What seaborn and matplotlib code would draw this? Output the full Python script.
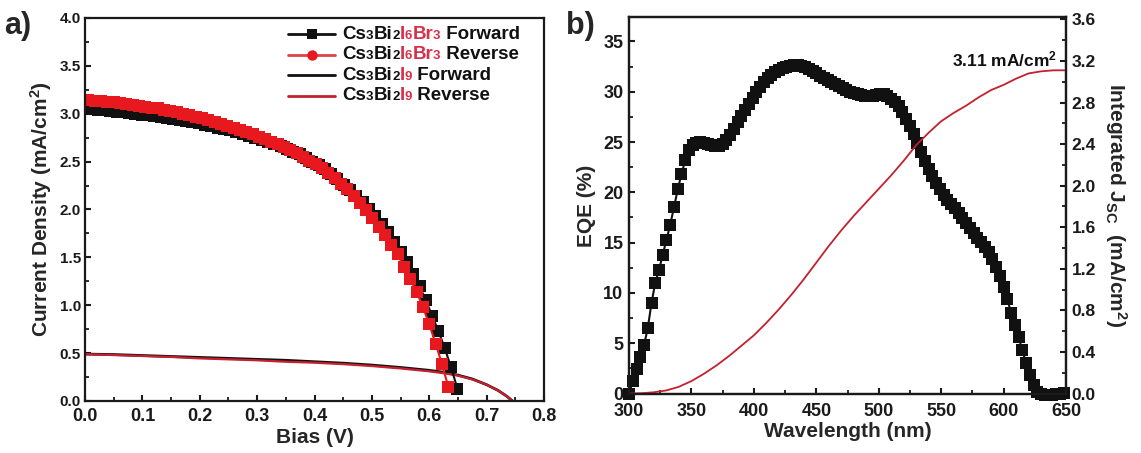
import numpy as np
import matplotlib
matplotlib.use("Agg")
import matplotlib.pyplot as plt
import seaborn as sns
from matplotlib.ticker import MultipleLocator, FormatStrFormatter
from matplotlib.offsetbox import TextArea, HPacker, VPacker, AnchoredOffsetbox, DrawingArea
from matplotlib.lines import Line2D

# ---------------- data ----------------
# J-V sweeps of Cs3Bi2I6Br3 (square markers), bias step 0.011 V
bias_step = 0.011
bias_fwd = np.round(np.arange(60) * bias_step, 3)
j_fwd = [3.05, 3.045, 3.04, 3.035, 3.03, 3.02, 3.015, 3.01, 3.00, 2.99,
         2.985, 2.975, 2.965, 2.955, 2.945, 2.935, 2.92, 2.91, 2.90, 2.885,
         2.87, 2.855, 2.84, 2.825, 2.81, 2.79, 2.77, 2.75, 2.73, 2.71,
         2.685, 2.66, 2.635, 2.605, 2.575, 2.54, 2.50, 2.46, 2.42, 2.37,
         2.32, 2.26, 2.20, 2.14, 2.08, 2.01, 1.93, 1.85, 1.76, 1.66,
         1.56, 1.45, 1.33, 1.20, 1.05, 0.89, 0.73, 0.55, 0.35, 0.13]

bias_rev = np.round(0.006 + np.arange(58) * bias_step, 3)
j_rev = [3.14, 3.135, 3.13, 3.125, 3.12, 3.11, 3.105, 3.095, 3.085, 3.075,
         3.065, 3.055, 3.04, 3.03, 3.015, 3.00, 2.985, 2.97, 2.955, 2.935,
         2.915, 2.895, 2.875, 2.855, 2.83, 2.81, 2.785, 2.76, 2.735, 2.71,
         2.68, 2.65, 2.62, 2.585, 2.55, 2.51, 2.47, 2.43, 2.38, 2.33,
         2.27, 2.21, 2.14, 2.07, 1.99, 1.91, 1.82, 1.73, 1.63, 1.53,
         1.40, 1.27, 1.14, 0.98, 0.80, 0.60, 0.39, 0.15]

# J-V sweeps of Cs3Bi2I9 (thin lines)
bias_i9 = [0.00, 0.05, 0.10, 0.15, 0.20, 0.25, 0.30, 0.35, 0.40, 0.45,
           0.50, 0.55, 0.60, 0.625, 0.65, 0.675, 0.70, 0.72, 0.735, 0.745]
j_i9_fwd = [0.49, 0.485, 0.475, 0.465, 0.455, 0.445, 0.435, 0.425, 0.41, 0.395,
            0.375, 0.35, 0.32, 0.30, 0.27, 0.23, 0.17, 0.11, 0.05, 0.0]
j_i9_rev = [0.49, 0.48, 0.47, 0.46, 0.445, 0.435, 0.425, 0.41, 0.40, 0.385,
            0.365, 0.34, 0.31, 0.29, 0.265, 0.225, 0.17, 0.11, 0.05, 0.0]

# EQE spectrum (3 nm step)
wavelength = np.arange(300, 649, 3)
eqe = [0.0, 1.2, 2.4, 3.6, 4.8, 6.5, 9.0, 11.0, 12.3, 13.8,
       15.3, 16.8, 18.5, 20.3, 21.8, 23.2, 24.2, 24.7, 24.9, 25.0,
       24.9, 24.8, 24.7, 24.6, 24.6, 24.8, 25.2, 25.7, 26.3, 27.0,
       27.6, 28.2, 28.8, 29.4, 30.0, 30.5, 31.0, 31.4, 31.7, 32.0,
       32.2, 32.4, 32.5, 32.6, 32.7, 32.7, 32.6, 32.5, 32.3, 32.1,
       31.9, 31.6, 31.4, 31.2, 31.0, 30.8, 30.6, 30.4, 30.2, 30.0,
       29.9, 29.8, 29.7, 29.6, 29.6, 29.6, 29.7, 29.8, 29.8, 29.6,
       29.3, 29.0, 28.6, 28.0, 27.3, 26.6, 25.8, 24.9, 24.0, 23.1,
       22.3, 21.6, 20.9, 20.3, 19.7, 19.2, 18.8, 18.4, 17.9, 17.4,
       17.0, 16.5, 16.0, 15.5, 15.1, 14.6, 14.1, 13.4, 12.6, 11.7,
       10.6, 9.4, 8.0, 6.8, 5.6, 4.3, 3.0, 1.8, 0.8, 0.2,
       0.0, -0.1, -0.1, -0.1, 0.0, 0.0, 0.1]

# Integrated short-circuit current density
wl_int = np.arange(300, 651, 10)
j_int = [0.0, 0.003, 0.012, 0.03, 0.065, 0.12, 0.19, 0.27, 0.36, 0.46,
         0.56, 0.68, 0.81, 0.95, 1.10, 1.26, 1.42, 1.57, 1.71, 1.84,
         1.97, 2.10, 2.24, 2.39, 2.51, 2.62, 2.70, 2.77, 2.85, 2.92,
         2.97, 3.03, 3.08, 3.10, 3.11, 3.11]
jsc_label = "3.11"

# ---------------- style ----------------
sns.set_theme(style="ticks")
plt.rcParams["font.family"] = ["Liberation Sans", "DejaVu Sans"]
plt.rcParams.update({
    "font.weight": "bold",
    "axes.labelweight": "bold",
    "mathtext.fontset": "custom",
    "mathtext.rm": "Liberation Sans:bold",
    "mathtext.it": "Liberation Sans:bold",
    "mathtext.bf": "Liberation Sans:bold",
    "axes.linewidth": 1.6,
    "axes.edgecolor": "#1a1a1a",
    "xtick.direction": "in",
    "ytick.direction": "in",
    "xtick.major.size": 4.5,
    "ytick.major.size": 4.5,
    "xtick.minor.size": 2.8,
    "ytick.minor.size": 2.8,
    "xtick.major.width": 1.5,
    "ytick.major.width": 1.5,
    "xtick.minor.width": 1.3,
    "ytick.minor.width": 1.3,
    "xtick.color": "#1a1a1a",
    "ytick.color": "#1a1a1a",
})

BLACK = "#111111"
RED = "#e8191e"
DARK_RED = "#c4202e"
TXT_RED = "#d8304a"

fig = plt.figure(figsize=(11.41, 4.53), dpi=100)
ax_a = fig.add_axes([0.0745, 0.1148, 0.4023, 0.8455])
ax_b = fig.add_axes([0.5513, 0.1313, 0.3830, 0.8305])

# ---------------- panel a: J-V ----------------
sns.lineplot(x=bias_i9, y=j_i9_fwd, ax=ax_a, color=BLACK, lw=2.0,
             estimator=None, sort=False, legend=False)
sns.lineplot(x=bias_i9, y=j_i9_rev, ax=ax_a, color=DARK_RED, lw=1.6,
             estimator=None, sort=False, legend=False)
sns.lineplot(x=bias_fwd, y=j_fwd, ax=ax_a, color=BLACK, lw=1.5, marker="s",
             markersize=8.3, markeredgewidth=0, estimator=None, sort=False,
             legend=False)
sns.lineplot(x=bias_rev, y=j_rev, ax=ax_a, color=RED, lw=1.5, marker="s",
             markersize=8.3, markeredgewidth=0, estimator=None, sort=False,
             legend=False)

ax_a.set_xlim(0, 0.8)
ax_a.set_ylim(0, 4.0)
ax_a.xaxis.set_major_locator(MultipleLocator(0.1))
ax_a.xaxis.set_minor_locator(MultipleLocator(0.05))
ax_a.yaxis.set_major_locator(MultipleLocator(0.5))
ax_a.yaxis.set_minor_locator(MultipleLocator(0.25))
ax_a.xaxis.set_major_formatter(FormatStrFormatter("%.1f"))
ax_a.yaxis.set_major_formatter(FormatStrFormatter("%.1f"))
ax_a.tick_params(axis="x", which="both", top=False, labelsize=13, pad=5)
ax_a.tick_params(axis="y", which="both", right=False, labelsize=11, pad=3)
for lab in ax_a.get_xticklabels() + ax_a.get_yticklabels():
    lab.set_fontweight("bold")
ax_a.set_xlabel("Bias (V)", fontsize=15, fontweight="bold", labelpad=2)
ax_a.set_ylabel(r"Current Density (mA/cm$^{\mathrm{2}}$)", fontsize=15,
                fontweight="bold", labelpad=4)
for s in ax_a.spines.values():
    s.set_visible(True)

# legend with coloured formula pieces
BIG, SMALL = 13.5, 9.5


def formula_row(pieces, line_color, marker=None, marker_color=None, lw=2.0):
    da = DrawingArea(34, 12, 0, 0)
    da.add_artist(Line2D([0, 34], [6, 6], color=line_color, lw=lw))
    if marker:
        da.add_artist(Line2D([17], [6], marker=marker, markersize=7.5,
                             color=marker_color, markeredgewidth=0))
    parts = [TextArea(t, textprops=dict(color=c, fontsize=fs, fontweight="bold",
                                        family=["Liberation Sans", "DejaVu Sans"]))
             for t, c, fs in pieces]
    text = HPacker(children=parts, align="baseline", pad=0, sep=0)
    return HPacker(children=[da, text], align="center", pad=0, sep=5)


rows = [
    formula_row([("Cs", BLACK, BIG), ("3", BLACK, SMALL), ("Bi", BLACK, BIG),
                 ("2", BLACK, SMALL), ("I", TXT_RED, BIG), ("6", TXT_RED, SMALL),
                 ("Br", TXT_RED, BIG), ("3", TXT_RED, SMALL), (" Forward", BLACK, BIG)],
                BLACK, "s", BLACK),
    formula_row([("Cs", BLACK, BIG), ("3", BLACK, SMALL), ("Bi", BLACK, BIG),
                 ("2", BLACK, SMALL), ("I", TXT_RED, BIG), ("6", TXT_RED, SMALL),
                 ("Br", TXT_RED, BIG), ("3", TXT_RED, SMALL), (" Reverse", BLACK, BIG)],
                "#e0404a", "o", RED),
    formula_row([("Cs", BLACK, BIG), ("3", BLACK, SMALL), ("Bi", BLACK, BIG),
                 ("2", BLACK, SMALL), ("I", TXT_RED, BIG), ("9", TXT_RED, SMALL),
                 (" Forward", BLACK, BIG)],
                BLACK),
    formula_row([("Cs", BLACK, BIG), ("3", BLACK, SMALL), ("Bi", BLACK, BIG),
                 ("2", BLACK, SMALL), ("I", TXT_RED, BIG), ("9", TXT_RED, SMALL),
                 (" Reverse", BLACK, BIG)],
                DARK_RED),
]
legend_box = VPacker(children=rows, align="left", pad=0, sep=2.5)
anchored = AnchoredOffsetbox(loc="upper left", child=legend_box, pad=0,
                             borderpad=0, frameon=False,
                             bbox_to_anchor=(288 / 1141, 1 - 26 / 453),
                             bbox_transform=fig.transFigure)
ax_a.add_artist(anchored)

# ---------------- panel b: EQE ----------------
sns.lineplot(x=wavelength, y=eqe, ax=ax_b, color=BLACK, lw=1.5, marker="s",
             markersize=8.3, markeredgewidth=0, estimator=None, sort=False,
             legend=False, clip_on=False, zorder=3)
ax_b.set_xlim(300, 650)
ax_b.set_ylim(0, 37.4)
ax_b.xaxis.set_major_locator(MultipleLocator(50))
ax_b.xaxis.set_minor_locator(MultipleLocator(25))
ax_b.yaxis.set_major_locator(MultipleLocator(5))
ax_b.yaxis.set_minor_locator(MultipleLocator(2.5))
ax_b.tick_params(axis="x", which="both", top=False, labelsize=13, pad=7)
ax_b.tick_params(axis="y", which="both", right=False, labelsize=13, pad=4)
for lab in ax_b.get_xticklabels() + ax_b.get_yticklabels():
    lab.set_fontweight("bold")
ax_b.set_xlabel("Wavelength (nm)", fontsize=15, fontweight="bold", labelpad=1)
ax_b.set_ylabel("EQE (%)", fontsize=15, fontweight="bold", labelpad=5)

ax_r = ax_b.twinx()
sns.lineplot(x=wl_int, y=j_int, ax=ax_r, color=DARK_RED, lw=1.3,
             estimator=None, sort=False, legend=False)
ax_r.set_ylim(0, 3.62)
ax_r.yaxis.set_major_locator(MultipleLocator(0.4))
ax_r.yaxis.set_minor_locator(MultipleLocator(0.2))
ax_r.yaxis.set_major_formatter(FormatStrFormatter("%.1f"))
ax_r.tick_params(axis="y", which="both", right=True, left=False, labelsize=12.5,
                 pad=4, direction="in")
for lab in ax_r.get_yticklabels():
    lab.set_fontweight("bold")
ax_r.set_ylabel(r"Integrated J$_{\mathrm{SC}}$  (mA/cm$^{\mathrm{2}}$)", fontsize=15,
                fontweight="bold", rotation=-90, labelpad=24)
for s in ax_r.spines.values():
    s.set_linewidth(1.6)

ax_r.text(643, 3.215, jsc_label + r" mA/cm$^{\mathrm{2}}$", ha="right",
          va="center", fontsize=12.5, fontweight="bold", color=BLACK)

# panel letters
fig.text(0.004, 0.975, "a)", fontsize=22, fontweight="bold", va="top", ha="left")
fig.text(0.496, 0.975, "b)", fontsize=22, fontweight="bold", va="top", ha="left")

fig.savefig("out.png", dpi=100)
